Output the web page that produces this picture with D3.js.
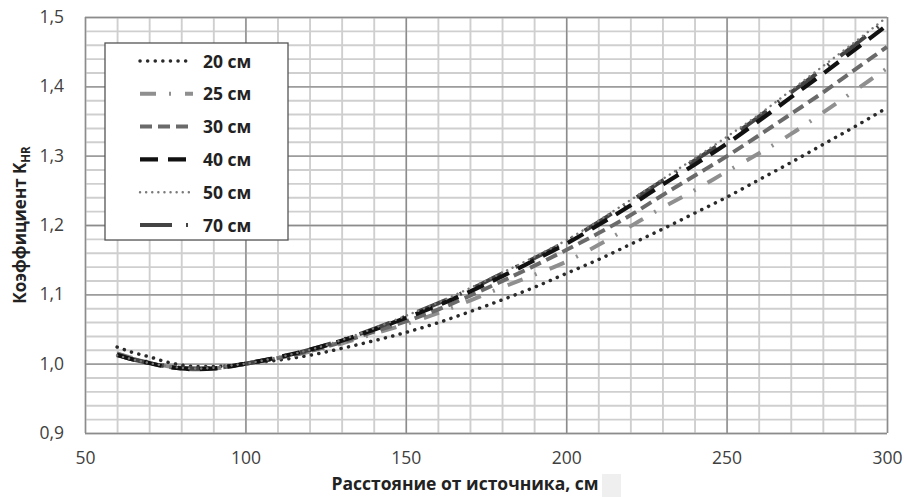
<!DOCTYPE html>
<html>
<head>
<meta charset="utf-8">
<script src="https://cdn.jsdelivr.net/npm/d3@7"></script>
<style>
  html, body { margin: 0; padding: 0; background: #fff; }
  svg { display: block; }
</style>
</head>
<body>
<svg id="chart" width="904" height="497"></svg>
<script>
// distances, cm
const distances = [60, 65, 70, 75, 80, 85, 90, 95, 100, 110, 120, 130, 140, 150, 160, 170, 180, 190, 200,
  210, 220, 230, 240, 250, 260, 270, 280, 290, 300];

const k20 = [1.024, 1.016, 1.010, 1.003, 0.998, 0.996, 0.996, 0.997, 1.000, 1.005, 1.012, 1.022, 1.033, 1.045,
  1.059, 1.075, 1.092, 1.110, 1.130, 1.150, 1.172, 1.194, 1.217, 1.240, 1.265, 1.290, 1.316, 1.342, 1.369];
const k25 = [1.015, 1.008, 1.002, 0.997, 0.994, 0.993, 0.993, 0.996, 1.000, 1.008, 1.017, 1.029, 1.043, 1.057,
  1.073, 1.091, 1.110, 1.128, 1.147, 1.171, 1.198, 1.225, 1.250, 1.277, 1.303, 1.331, 1.362, 1.394, 1.426];
const k30 = [1.014, 1.007, 1.001, 0.996, 0.993, 0.992, 0.993, 0.996, 1.000, 1.008, 1.018, 1.031, 1.046, 1.061,
  1.078, 1.098, 1.119, 1.141, 1.164, 1.188, 1.214, 1.243, 1.271, 1.299, 1.329, 1.360, 1.391, 1.424, 1.457];
const k40 = [1.013, 1.006, 1.001, 0.996, 0.993, 0.992, 0.993, 0.996, 1.000, 1.009, 1.020, 1.033, 1.049, 1.066,
  1.084, 1.104, 1.126, 1.149, 1.173, 1.200, 1.228, 1.258, 1.287, 1.317, 1.350, 1.384, 1.418, 1.453, 1.488];
const k50 = [1.012, 1.006, 1.001, 0.997, 0.994, 0.993, 0.994, 0.997, 1.000, 1.009, 1.020, 1.034, 1.051, 1.069,
  1.088, 1.109, 1.131, 1.154, 1.178, 1.206, 1.236, 1.266, 1.296, 1.327, 1.359, 1.394, 1.429, 1.464, 1.500];
const k70 = [1.012, 1.006, 1.001, 0.997, 0.994, 0.993, 0.994, 0.997, 1.000, 1.009, 1.020, 1.034, 1.050, 1.068,
  1.087, 1.107, 1.130, 1.152, 1.176, 1.204, 1.234, 1.264, 1.293, 1.323, 1.356, 1.391, 1.425, 1.460, 1.496];

const seriesNames = ["20 см", "25 см", "30 см", "40 см", "50 см", "70 см"];
const seriesValues = [k20, k25, k30, k40, k50, k70];

const xTicks = [50, 100, 150, 200, 250, 300];
const yTicks = [0.9, 1.0, 1.1, 1.2, 1.3, 1.4, 1.5];

// line styles per series (same order as seriesNames)
const styles = [
  { color: "#2a2a2a", width: 3.5, dash: "0.1,7.5", cap: "round" },
  { color: "#8f8f8f", width: 4, dash: "16,13,2,14", cap: "butt" },
  { color: "#6a6a6a", width: 4, dash: "12,6", cap: "butt" },
  { color: "#111111", width: 4.2, dash: "18,10", cap: "butt" },
  { color: "#7a7a7a", width: 2.4, dash: "0.1,6", cap: "round" },
  { color: "#444444", width: 4, dash: "32,14,2,14", cap: "butt" }
];
const drawOrder = [0, 1, 2, 5, 3, 4];

const svg = d3.select("#chart");
const margin = { left: 85, top: 17, right: 17, bottom: 64 };
const width = 904 - margin.left - margin.right;
const height = 497 - margin.top - margin.bottom;

const x = d3.scaleLinear().domain([50, 300]).range([0, width]);
const y = d3.scaleLinear().domain([0.9, 1.5]).range([height, 0]);

const g = svg.append("g").attr("transform", `translate(${margin.left},${margin.top})`);

// minor grid
g.append("g")
  .call(d3.axisBottom(x).tickValues(d3.range(50, 301, 10)).tickSize(height).tickFormat(""))
  .call(a => a.select(".domain").remove())
  .selectAll("line").attr("stroke", "#cfcfcf").attr("stroke-width", 1.9);
g.append("g")
  .call(d3.axisLeft(y).tickValues(d3.range(0, 31).map(i => 0.9 + i * 0.02)).tickSize(-width).tickFormat(""))
  .call(a => a.select(".domain").remove())
  .selectAll("line").attr("stroke", "#cfcfcf").attr("stroke-width", 1.9);

// major grid
g.append("g")
  .call(d3.axisBottom(x).tickValues(xTicks).tickSize(height).tickFormat(""))
  .call(a => a.select(".domain").remove())
  .selectAll("line").attr("stroke", "#8c8c8c").attr("stroke-width", 1.4);
g.append("g")
  .call(d3.axisLeft(y).tickValues(yTicks).tickSize(-width).tickFormat(""))
  .call(a => a.select(".domain").remove())
  .selectAll("line").attr("stroke", "#8c8c8c").attr("stroke-width", 1.4);

// tick labels
const fmt = d => d.toFixed(1).replace(".", ",");
g.append("g")
  .attr("transform", `translate(0,${height})`)
  .call(d3.axisBottom(x).tickValues(xTicks).tickSize(0).tickPadding(19))
  .call(a => a.select(".domain").remove())
  .selectAll("text")
  .attr("fill", "#404040")
  .style("font", "17.5px 'Open Sans', sans-serif");
g.append("g")
  .call(d3.axisLeft(y).tickValues(yTicks).tickSize(0).tickPadding(21).tickFormat(fmt))
  .call(a => a.select(".domain").remove())
  .selectAll("text")
  .attr("fill", "#404040")
  .style("font", "17.5px 'Open Sans', sans-serif");

// curves
const line = d3.line()
  .x((d, i) => x(distances[i]))
  .y(d => y(d))
  .curve(d3.curveMonotoneX);

drawOrder.forEach(i => {
  const s = styles[i];
  g.append("path")
    .datum(seriesValues[i])
    .attr("fill", "none")
    .attr("stroke", s.color)
    .attr("stroke-width", s.width)
    .attr("stroke-dasharray", s.dash)
    .attr("stroke-linecap", s.cap)
    .attr("d", line);
});

// legend
const legend = svg.append("g").attr("transform", "translate(105,43)");
legend.append("rect")
  .attr("width", 183).attr("height", 197)
  .attr("fill", "#fff").attr("stroke", "#555").attr("stroke-width", 1.3);
seriesNames.forEach((name, i) => {
  const s = styles[i];
  const row = legend.append("g").attr("transform", `translate(0,${18 + i * 32.8})`);
  row.append("line")
    .attr("x1", 35).attr("x2", 88).attr("y1", 0).attr("y2", 0)
    .attr("stroke", s.color)
    .attr("stroke-width", s.width)
    .attr("stroke-dasharray", s.dash)
    .attr("stroke-linecap", s.cap);
  row.append("text")
    .attr("x", 98).attr("y", 6.5)
    .attr("fill", "#222")
    .style("font", "bold 17.5px 'Open Sans', sans-serif")
    .text(name);
});

// axis titles
svg.append("text")
  .attr("x", 465).attr("y", 490)
  .attr("text-anchor", "middle")
  .attr("fill", "#222")
  .style("font", "bold 17.5px 'Open Sans', sans-serif")
  .text("Расстояние от источника, см");

const yTitle = svg.append("text")
  .attr("transform", "translate(26,225) rotate(-90)")
  .attr("text-anchor", "middle")
  .attr("fill", "#222")
  .style("font", "bold 17px 'Open Sans', sans-serif");
yTitle.append("tspan").text("Коэффициент K");
yTitle.append("tspan").attr("dy", 4).style("font-size", "11.5px").text("HR");

// faint square after the axis title
svg.append("rect")
  .attr("x", 602).attr("y", 474).attr("width", 19).attr("height", 23)
  .attr("fill", "#efefef");
</script>
</body>
</html>
